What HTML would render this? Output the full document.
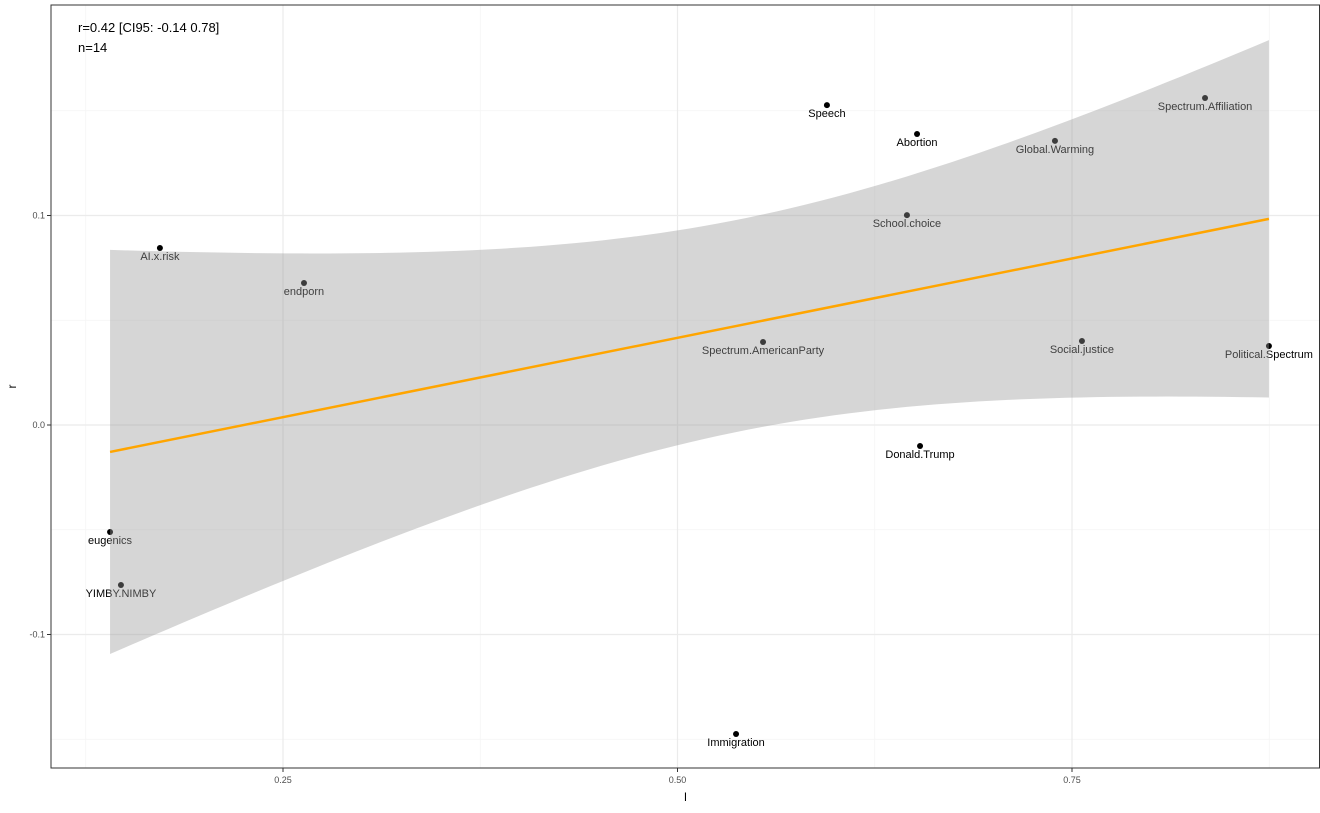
<!DOCTYPE html>
<html><head><meta charset="utf-8"><style>
body{margin:0;background:#fff;font-family:"Liberation Sans",sans-serif}
svg text{font-family:"Liberation Sans",sans-serif}
</style></head><body>
<svg id="c" width="1320" height="808"></svg>
<script>
const labels=["Speech","Abortion","Spectrum.Affiliation","Global.Warming","School.choice","AI.x.risk","endporn","Spectrum.AmericanParty","Social.justice","Political.Spectrum","Donald.Trump","eugenics","YIMBY.NIMBY","Immigration"];
const xVals=[0.5947,0.6518,0.8343,0.7392,0.6454,0.1720,0.2633,0.5542,0.7563,0.8748,0.6537,0.1404,0.1473,0.5371];
const yVals=[0.1527,0.1389,0.1561,0.1356,0.1002,0.0845,0.0678,0.0396,0.0401,0.0377,-0.0100,-0.0511,-0.0764,-0.1475];
const xTicks=[0.25,0.5,0.75];
const xTickLabels=["0.25","0.50","0.75"];
const yTicks=[-0.1,0,0.1];
const yTickLabels=["-0.1","0.0","0.1"];
const xMinor=[0.125,0.375,0.625,0.875];
const yMinor=[-0.15,-0.05,0.05,0.15];
const annot=["r=0.42 [CI95: -0.14 0.78]","n=14"];

const L=51,R=1320,T=5,B=768;
const X=v=>283+(v-0.25)*1578;
const Y=v=>425-v*2095;
const svg=document.getElementById('c');
const NS="http://www.w3.org/2000/svg";
function mk(t,a,p){const e=document.createElementNS(NS,t);for(const k in a)e.setAttribute(k,a[k]);(p||svg).appendChild(e);return e;}

mk('rect',{x:L,y:T,width:R-L,height:B-T,fill:'#fff'});
xMinor.forEach(v=>{const e=mk('line',{x1:X(v),x2:X(v),y1:T,y2:B,stroke:'#f4f4f4','stroke-width':0.8});
});
yMinor.forEach(v=>{const e=mk('line',{x1:L,x2:R,y1:Y(v),y2:Y(v),stroke:'#f4f4f4','stroke-width':0.8});
});
xTicks.forEach((v,i)=>{const e=mk('line',{x1:X(v),x2:X(v),y1:T,y2:B,stroke:'#ebebeb','stroke-width':1.2});

const tk=mk('line',{x1:X(v),x2:X(v),y1:B,y2:B+4,stroke:'#333'});

const t=mk('text',{x:X(v),y:B+15,'font-size':9,'text-anchor':'middle',fill:'#4d4d4d'});t.textContent=xTickLabels[i];
});
yTicks.forEach((v,i)=>{const e=mk('line',{x1:L,x2:R,y1:Y(v),y2:Y(v),stroke:'#ebebeb','stroke-width':1.2});

const tk=mk('line',{x1:L-4,x2:L,y1:Y(v),y2:Y(v),stroke:'#333'});

const t=mk('text',{x:L-6,y:Y(v)+3,'font-size':9,'text-anchor':'end',fill:'#4d4d4d'});t.textContent=yTickLabels[i];
});

// points & labels
xVals.forEach((v,i)=>{const p=mk('circle',{cx:X(v),cy:Y(yVals[i]),r:3,fill:'#000'});

const t=mk('text',{x:X(v),y:Y(yVals[i])+12,'font-size':11,'text-anchor':'middle',fill:'#000'});t.textContent=labels[i];
});

// regression
const n=xVals.length,mx=xVals.reduce((a,b)=>a+b)/n,my=yVals.reduce((a,b)=>a+b)/n;
let sxx=0,sxy=0;for(let i=0;i<n;i++){sxx+=(xVals[i]-mx)**2;sxy+=(xVals[i]-mx)*(yVals[i]-my);}
const b1=sxy/sxx,b0=my-b1*mx;let sse=0;for(let i=0;i<n;i++)sse+=(yVals[i]-b0-b1*xVals[i])**2;
const s=Math.sqrt(sse/(n-2)),tq=2.179;
const x0=Math.min(...xVals),x1=Math.max(...xVals);
const up=[],lo=[];
for(let k=0;k<=80;k++){const xv=x0+(x1-x0)*k/80,f=b0+b1*xv,se=s*Math.sqrt(1/n+(xv-mx)**2/sxx);
up.push(X(xv)+','+Y(f+tq*se));lo.unshift(X(xv)+','+Y(f-tq*se));}
const rib=mk('polygon',{points:up.concat(lo).join(' '),fill:'#999','fill-opacity':0.4});

const ln=mk('line',{x1:X(x0),y1:Y(b0+b1*x0),x2:X(x1),y2:Y(b0+b1*x1),stroke:'#ffa500','stroke-width':2.5});


const fr=mk('rect',{x:L,y:T,width:R-L-0.5,height:B-T,fill:'none',stroke:'#333','stroke-width':1});

annot.forEach((a,i)=>{const t=mk('text',{x:78,y:32+i*20,'font-size':13,fill:'#000'});t.textContent=a;
});
const xt=mk('text',{x:(L+R)/2,y:801,'font-size':12,'text-anchor':'middle'});xt.textContent='l';

const yt=mk('text',{x:16,y:(T+B)/2,'font-size':12,'text-anchor':'middle',transform:'rotate(-90 16 '+(T+B)/2+')'});yt.textContent='r';

</script>
</body></html>
